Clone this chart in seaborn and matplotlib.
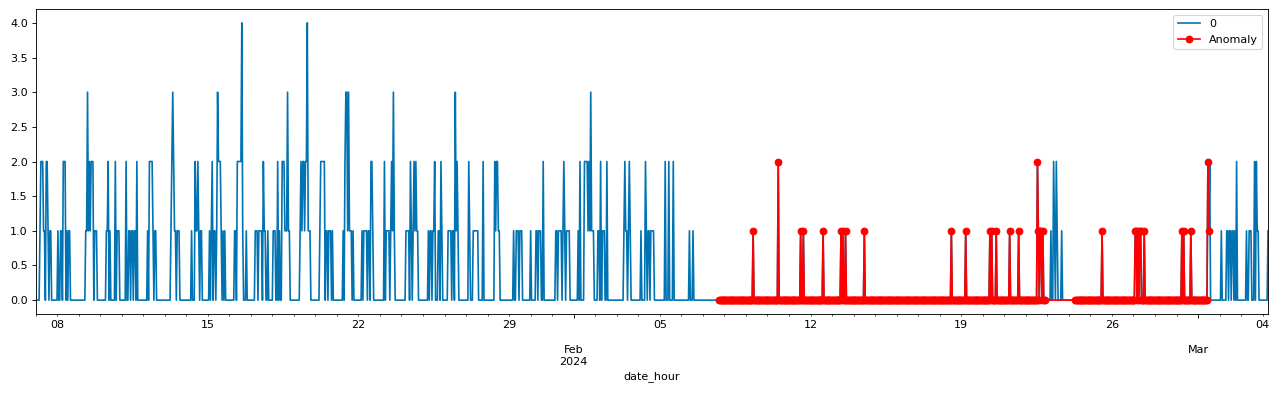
#시간별 카운트와 이상치(Anomaly) 시각화
import numpy as np
import pandas as pd
import matplotlib
matplotlib.use("Agg")
import matplotlib.pyplot as plt
import matplotlib.dates as mdates
from matplotlib.ticker import FixedLocator, FixedFormatter
import seaborn as sb

#데이터: 2024-01-07 00시부터 한 시간 간격, 0이 아닌 시간만 (시간 인덱스, 값)
start = "2024-01-07 00:00"
n_hours = 1375

spikes_w1 = [(5, 1), (6, 2), (7, 2), (8, 2), (9, 1), (10, 1), (12, 2), (13, 2), (14, 1), (16, 1),
             (17, 1), (25, 1), (28, 1), (29, 1), (31, 2), (32, 2), (33, 2), (35, 1), (37, 1), (38, 1),
             (56, 1), (57, 1), (58, 3), (59, 1), (60, 2), (61, 1), (62, 2), (63, 2), (64, 2), (66, 1),
             (67, 1), (68, 1), (79, 1), (80, 1), (81, 2), (83, 1), (89, 2), (91, 1), (92, 1), (93, 1),
             (101, 2), (104, 1), (105, 1), (107, 1), (108, 1), (110, 1), (111, 1), (113, 2), (125, 1),
             (127, 2), (128, 2), (129, 2), (130, 2), (131, 1), (133, 1), (134, 1), (151, 1), (152, 2),
             (153, 3), (154, 2), (155, 1), (156, 1), (158, 1), (159, 1), (160, 1)]
spikes_w2 = [(174, 1), (178, 2), (179, 1), (180, 1), (181, 2), (182, 1), (184, 1), (185, 1), (194, 1),
             (196, 1), (197, 2), (199, 1), (200, 1), (202, 1), (203, 3), (204, 2), (205, 2), (206, 2),
             (207, 1), (209, 1), (211, 1), (222, 1), (223, 1), (225, 2), (226, 2), (227, 2), (228, 2),
             (229, 2), (230, 4), (231, 1), (235, 1), (245, 1), (246, 1), (247, 1), (249, 1), (250, 1),
             (251, 1), (252, 1), (254, 2), (255, 1), (256, 1), (259, 1), (265, 1), (266, 1), (267, 1),
             (270, 2), (272, 1), (275, 2), (276, 2), (277, 2), (278, 1), (279, 1), (280, 1), (281, 3),
             (282, 1), (283, 1), (295, 1), (296, 2), (297, 1), (298, 2), (299, 2), (300, 1), (301, 2),
             (302, 2), (303, 4), (304, 1), (305, 1), (306, 1), (317, 1), (318, 2), (319, 2), (320, 2),
             (321, 2), (322, 2), (324, 1), (325, 1), (327, 1), (328, 1), (329, 1), (331, 1)]
spikes_w3 = [(343, 1), (345, 2), (346, 3), (347, 3), (348, 1), (349, 3), (350, 1), (351, 1), (352, 1),
             (354, 1), (364, 1), (366, 1), (367, 1), (368, 1), (369, 1), (371, 1), (372, 1), (374, 2),
             (375, 2), (376, 1), (389, 2), (391, 1), (392, 1), (393, 1), (394, 1), (396, 1), (397, 2),
             (398, 1), (399, 3), (400, 1), (413, 1), (414, 1), (415, 1), (416, 1), (418, 2), (419, 1),
             (421, 1), (422, 2), (423, 1), (424, 2), (425, 1), (426, 1), (438, 1), (440, 1), (441, 1),
             (443, 1), (444, 1), (445, 2), (449, 1), (450, 1), (452, 2), (453, 1), (460, 1), (461, 1),
             (462, 1), (463, 1), (465, 1), (466, 1), (468, 3), (469, 1), (470, 2), (471, 1), (483, 2),
             (484, 1), (488, 1), (489, 1), (490, 1), (491, 1), (492, 1), (493, 1), (499, 2)]
spikes_w4 = [(512, 2), (513, 1), (514, 2), (515, 2), (516, 1), (517, 1), (533, 1), (536, 1), (537, 1),
             (538, 1), (540, 1), (541, 1), (542, 1), (552, 1), (558, 1), (559, 1), (561, 1), (562, 1),
             (563, 1), (566, 2), (580, 1), (581, 1), (583, 1), (584, 1), (585, 1), (586, 1), (588, 1),
             (589, 2), (590, 1), (592, 1), (593, 1), (594, 1), (595, 1), (605, 1), (607, 2), (612, 2),
             (613, 2), (614, 2), (615, 2), (616, 1), (617, 2), (618, 1), (619, 3), (620, 1), (621, 1),
             (622, 1), (627, 1), (628, 1), (630, 2), (632, 1), (633, 1), (634, 1), (637, 2), (656, 1),
             (657, 2), (658, 1), (659, 1), (661, 1), (662, 2), (663, 1)]
spikes_w5 = [(675, 1), (680, 2), (681, 1), (683, 1), (684, 1), (686, 1), (687, 1), (688, 1), (689, 1),
             (702, 2), (706, 2), (711, 2), (729, 1), (733, 1), (800, 1), (828, 2)]
spikes_rest = [(853, 1), (856, 1), (878, 1), (898, 1), (900, 1), (903, 1), (924, 1), (1021, 1),
               (1037, 1), (1064, 1), (1066, 1), (1071, 1), (1086, 1), (1096, 1), (1117, 2), (1118, 1),
               (1120, 1), (1121, 1), (1123, 1), (1132, 1), (1135, 2), (1136, 1), (1138, 2), (1139, 1),
               (1144, 1), (1189, 1), (1226, 1), (1227, 1), (1229, 1), (1231, 1), (1232, 1), (1236, 1),
               (1278, 1), (1280, 1), (1288, 1), (1307, 2), (1308, 1), (1309, 2), (1322, 1), (1328, 1),
               (1329, 1), (1331, 1), (1332, 1), (1334, 1), (1335, 1), (1337, 1), (1339, 2), (1350, 1),
               (1353, 1), (1354, 1), (1355, 1), (1359, 2), (1361, 2), (1362, 1), (1363, 1), (1374, 1)]

#이상치로 표시된 구간 (시작, 끝 시간 인덱스)
anomaly_spans = [(762, 1125), (1159, 1308)]

#x축 라벨 (pandas 스타일)
week_days = ["2024-01-08", "2024-01-15", "2024-01-22", "2024-01-29", "2024-02-05",
             "2024-02-12", "2024-02-19", "2024-02-26", "2024-03-04"]
week_labels = ["08", "15", "22", "29", "05", "12", "19", "26", "04"]
month_days = ["2024-02-01", "2024-03-01"]
month_labels = ["\n\nFeb\n2024", "\n\nMar"]

#데이터프레임 만들기
idx = pd.date_range(start, periods=n_hours, freq="h")
counts = np.zeros(n_hours)
for h, v in spikes_w1 + spikes_w2 + spikes_w3 + spikes_w4 + spikes_w5 + spikes_rest:
    counts[h] = v
df = pd.DataFrame({"date_hour": idx, "count": counts})

mask = np.zeros(n_hours, dtype=bool)
for a, b in anomaly_spans:
    mask[a:b + 1] = True
df_anom = df[mask]

#시각화 (80 dpi 기준)
blue = sb.color_palette("colorblind")[0]
fig = plt.figure(figsize=(1277 / 80, 395 / 80), dpi=80)
ax = fig.add_axes([35.5 / 1277, 81 / 395, 1232.5 / 1277, 305 / 395])
sb.lineplot(data=df, x="date_hour", y="count", ax=ax, color=blue, linewidth=1.5, label="0")
sb.lineplot(data=df_anom, x="date_hour", y="count", ax=ax, color="red", linewidth=1.5,
            marker="o", markersize=6, markeredgecolor="red", markeredgewidth=1, label="Anomaly")

ax.set_xlim(idx[0], idx[-1])
ax.set_ylabel("")
ax.set_xlabel("date_hour")

#눈금: 월 시작은 major, 날짜는 minor
ax.xaxis.set_major_locator(FixedLocator(mdates.date2num(pd.to_datetime(month_days))))
ax.xaxis.set_major_formatter(FixedFormatter(month_labels))
days = pd.date_range(idx[0].normalize(), idx[-1].normalize(), freq="D")
days = days[~days.isin(pd.to_datetime(month_days))]
week_map = dict(zip(pd.to_datetime(week_days), week_labels))
ax.xaxis.set_minor_locator(FixedLocator(mdates.date2num(days)))
ax.xaxis.set_minor_formatter(FixedFormatter([week_map.get(d, "") for d in days]))

ax.legend(loc="upper right")
fig.savefig("out.png", dpi=80)
